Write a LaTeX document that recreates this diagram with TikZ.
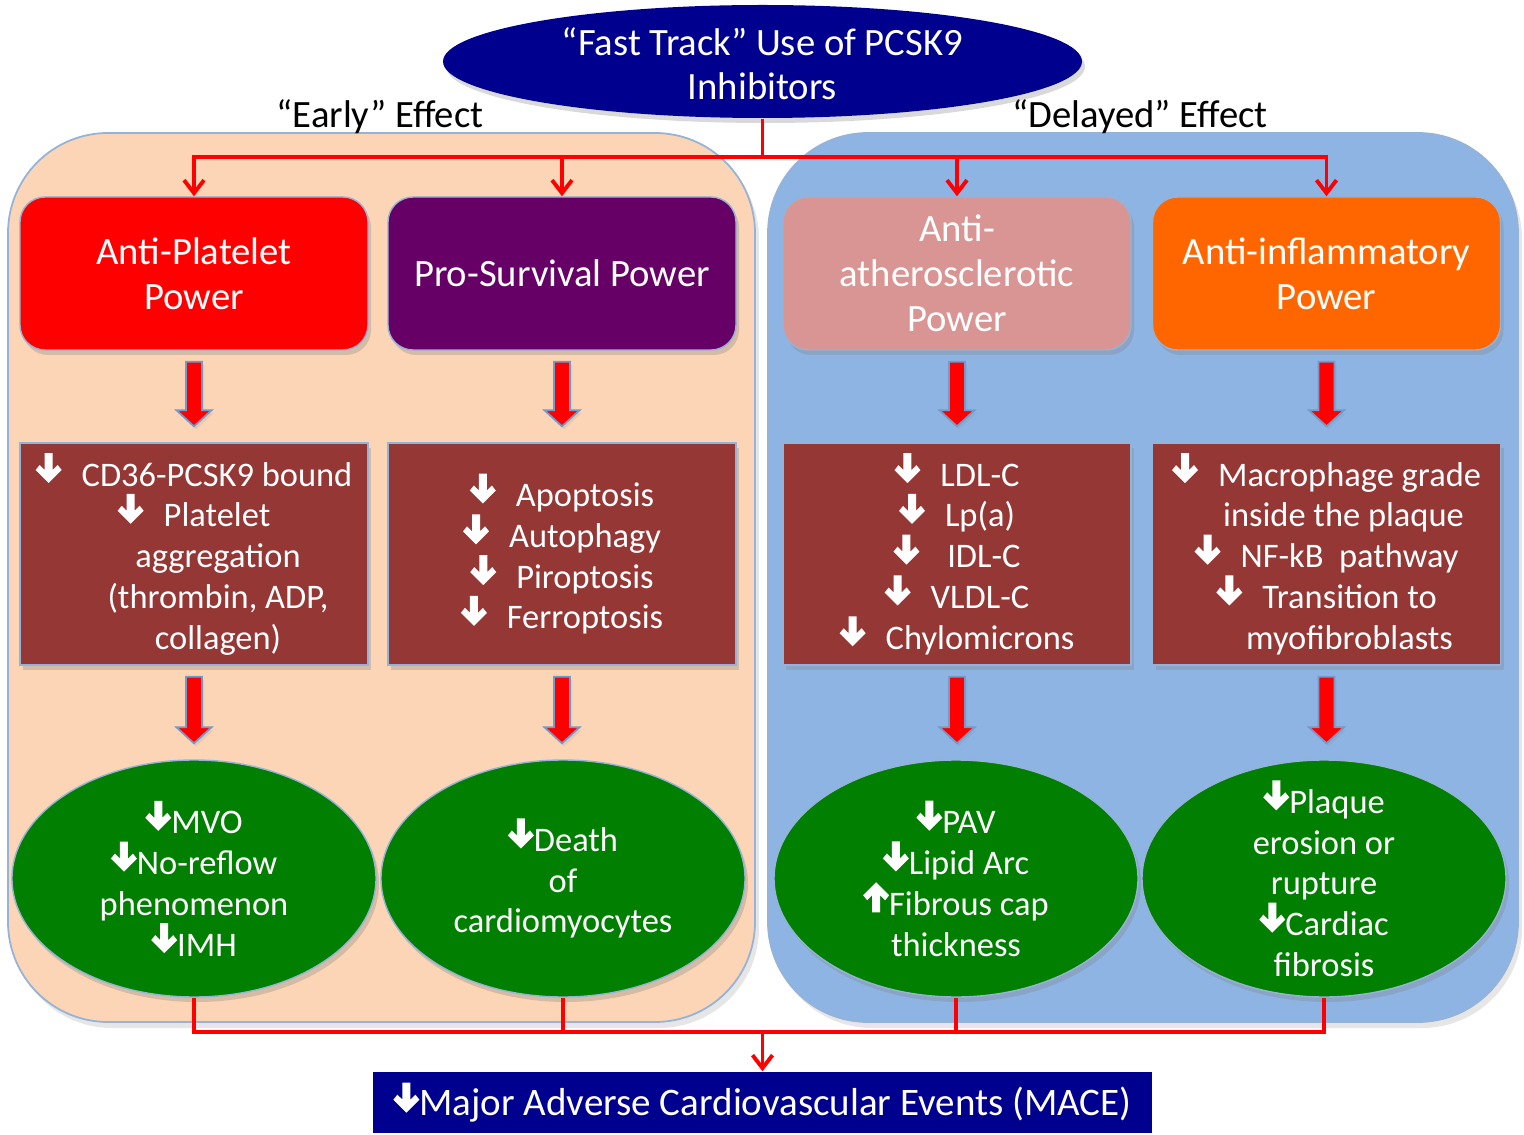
\documentclass[tikz,border=0pt]{standalone}
\usepackage{fontspec}
\setmainfont{Carlito}
\usetikzlibrary{shapes.geometric, arrows.meta, calc, shadows}

\definecolor{navy}{HTML}{00008F}
\definecolor{peach}{HTML}{FBD5B5}
\definecolor{sky}{HTML}{8EB4E3}
\definecolor{edge}{HTML}{95B3D7}
\definecolor{steel}{HTML}{4F81BD}
\definecolor{plum}{HTML}{660066}
\definecolor{rose}{HTML}{D99594}
\definecolor{tangerine}{HTML}{FF6600}
\definecolor{brick}{HTML}{953735}
\definecolor{leaf}{HTML}{007F00}

% white block arrows used inside the texts
\newcommand{\dn}{\tikz[baseline=-0.03cm]\fill[white] (-0.04,0.30) -- (0.04,0.30) -- (0.04,0.13) -- (0.09,0.18) -- (0.13,0.13) -- (0,0) -- (-0.13,0.13) -- (-0.09,0.18) -- (-0.04,0.13) -- cycle;}
\newcommand{\up}{\tikz[baseline=-0.03cm]\fill[white] (-0.04,0) -- (0.04,0) -- (0.04,0.17) -- (0.09,0.12) -- (0.13,0.17) -- (0,0.30) -- (-0.13,0.17) -- (-0.09,0.12) -- (-0.04,0.17) -- cycle;}
\newcommand{\gap}{\hspace{0.2cm}}

% thick red arrow from one node down to the next
\newcommand{\bigarrow}[2]{%
  \coordinate (bt) at (#1.south |- #2.north);
  \draw[bigdart] ($(#1.south)+(-0.08,-0.11)$) -- ($(#1.south)+(0.08,-0.11)$)
    -- ($(bt)+(0.08,0.32)$) -- ($(bt)+(0.175,0.32)$)
    -- ($(bt)+(0,0.16)$) -- ($(bt)+(-0.175,0.32)$)
    -- ($(bt)+(-0.08,0.32)$) -- cycle;}

\begin{document}
\begin{tikzpicture}[
    shade/.style={drop shadow={opacity=0.3, shadow xshift=0.03cm, shadow yshift=-0.05cm}},
    panel/.style={rounded corners=1cm, draw=edge, line width=0.5pt, drop shadow={opacity=0.2, shadow xshift=0.04cm, shadow yshift=-0.06cm}},
    power/.style={rounded corners=0.25cm, minimum width=3.48cm, minimum height=1.53cm, inner sep=0pt,
        text=white, align=center, draw=steel!60, line width=0.4pt, font=\fontsize{11}{12.8}\selectfont, shade},
    effect/.style={fill=brick, minimum width=3.48cm, minimum height=2.22cm, inner sep=0pt,
        text=white, align=center, draw=steel!60, line width=0.4pt, font=\fontsize{9.8}{11.6}\selectfont, shade},
    outcome/.style={ellipse, fill=leaf, draw=steel!60, line width=0.4pt, minimum width=3.64cm, minimum height=2.37cm, inner sep=0pt, shade},
    outtext/.style={text=white, align=center, font=\fontsize{9.8}{11.6}\selectfont},
    label/.style={font=\fontsize{11}{12.8}\selectfont, anchor=base},
    link/.style={red, line width=1.1pt},
    headed/.style={-{Straight Barb[length=0.13cm, width=0.2cm]}},
    bigdart/.style={fill=red, draw=steel!80, line width=0.5pt, drop shadow={opacity=0.15, shadow xshift=0.02cm, shadow yshift=-0.03cm}}
]
    \useasboundingbox (0,0) rectangle (15.24,-11.35);

    % Background panels
    \draw[panel, fill=peach] (0.08,-1.33) rectangle (7.55,-10.22);
    \draw[panel, fill=sky] (7.68,-1.33) rectangle (15.18,-10.22);

    % Panel titles
    \node[label] (early) at (3.80,-1.28) {“Early” Effect};
    \node[label] (delayed) at (11.40,-1.28) {“Delayed” Effect};

    % Top ellipse
    \node[ellipse, fill=navy, minimum width=6.39cm, minimum height=1.13cm, inner sep=0pt, shade] (fast) at (7.625,-0.615) {};
    \node[outtext, font=\fontsize{11}{12.4}\selectfont] (fasttext) at ($(fast)+(0,-0.02)$) {“Fast Track” Use of PCSK9\\Inhibitors};

    % Powers
    \node[power, fill=red] (p1) at (1.94,-2.735) {Anti-Platelet\\Power};
    \node[power, fill=plum] (p2) at (5.62,-2.735) {Pro-Survival Power};
    \node[power, fill=rose] (p3) at (9.57,-2.735) {Anti-\\atherosclerotic\\Power};
    \node[power, fill=tangerine] (p4) at (13.265,-2.735) {Anti-inflammatory\\Power};

    % Mechanisms
    \node[effect] (e1) at (1.94,-5.54) {\dn\gap CD36-PCSK9 bound\\\dn\gap Platelet\\\hspace*{0.48cm}aggregation\\\hspace*{0.48cm}(thrombin, ADP,\\\hspace*{0.48cm}collagen)};
    \node[effect] (e2) at (5.62,-5.54) {\dn\gap Apoptosis\\\dn\gap Autophagy\\\dn\gap Piroptosis\\\dn\gap Ferroptosis};
    \node[effect] (e3) at (9.57,-5.54) {\dn\gap LDL-C\\\dn\gap Lp(a)\\\dn\gap\ IDL-C\\\dn\gap VLDL-C\\\dn\gap Chylomicrons};
    \node[effect] (e4) at (13.265,-5.54) {\dn\gap Macrophage grade\\\hspace*{0.34cm}inside the plaque\\\dn\gap NF-kB\ \ pathway\\\dn\gap Transition to\\\hspace*{0.46cm}myofibroblasts};

    % Outcomes
    \node[outcome] (o1) at (1.94,-8.785) {};
    \node[outcome] (o2) at (5.63,-8.785) {};
    \node[outcome] (o3) at (9.56,-8.785) {};
    \node[outcome] (o4) at (13.24,-8.785) {};
    \node[outtext] (o1text) at (o1) {\dn MVO\\\dn No-reflow\\phenomenon\\\dn IMH};
    \node[outtext] (o2text) at (o2) {\dn Death\\of\\cardiomyocytes};
    \node[outtext] (o3text) at (o3) {\dn PAV\\\dn Lipid Arc\\\up Fibrous cap\\thickness};
    \node[outtext] (o4text) at (o4) {\dn Plaque\\erosion or\\rupture\\\dn Cardiac\\fibrosis};

    % MACE box
    \node[fill=navy, minimum width=7.79cm, minimum height=0.61cm, inner sep=0pt, text=white,
        font=\fontsize{11.1}{12}\selectfont] (mace) at (7.625,-11.025) {\dn Major Adverse Cardiovascular Events (MACE)};

    % Red block arrows
    \foreach \i in {1,2,3,4} {
        \bigarrow{p\i}{e\i}
        \bigarrow{e\i}{o\i}
    }

    % Split from the top ellipse
    \coordinate (hub) at ($(fast.south)+(0,-0.38)$);
    \draw[link] (fast.south) -- (hub);
    \foreach \n in {p1,p2,p3,p4} {
        \draw[link, headed] (hub) -| (\n.north);
    }

    % Merge into MACE
    \coordinate (sink) at ($(mace.north)+(0,0.39)$);
    \foreach \n in {o1,o2,o3,o4} {
        \draw[link] (\n.south) |- (sink);
    }
    \draw[link, headed] (sink) -- (mace.north);

\end{tikzpicture}
\end{document}
